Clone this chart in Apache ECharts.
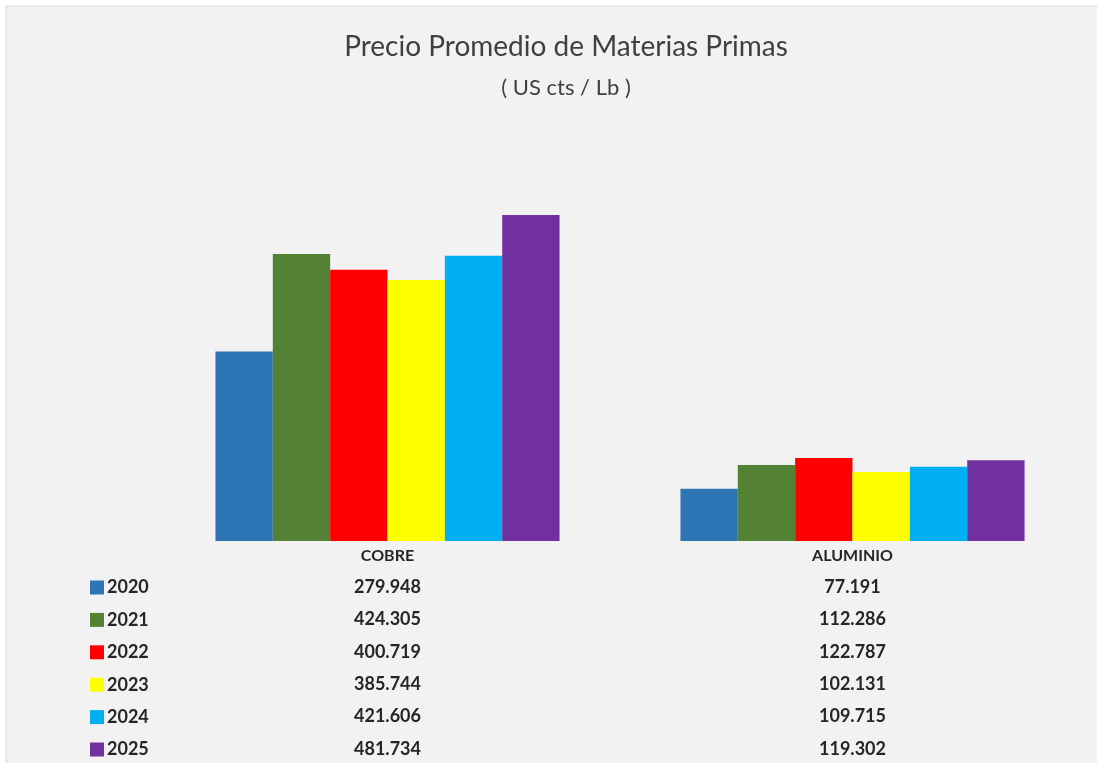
<!DOCTYPE html>
<html><head><meta charset="utf-8">
<script src="https://cdn.jsdelivr.net/npm/echarts@6/dist/echarts.min.js"></script>
<style>html,body{margin:0;padding:0;background:#fff}#c{width:1097px;height:763px}</style>
</head><body><div id="c"></div>
<script>
const categories = ['COBRE', 'ALUMINIO'];
const years = ['2020', '2021', '2022', '2023', '2024', '2025'];
const cobre = [279.948, 424.305, 400.719, 385.744, 421.606, 481.734];
const aluminio = [77.191, 112.286, 122.787, 102.131, 109.715, 119.302];
const colors = ['#2E75B6', '#548235', '#FF0000', '#FFFF00', '#00B0F0', '#7030A0'];

const fmt = v => v.toFixed(3);
const rowStep = 32.4;
const font = 'Lato, "Open Sans", sans-serif';

const xAxes = [{
  type: 'category', data: categories, gridIndex: 0,
  axisLine: {show: false}, axisTick: {show: false},
  axisLabel: {margin: 7, fontSize: 16, fontWeight: 'bold', color: '#262626', fontFamily: font}
}];
years.forEach((y, i) => {
  xAxes.push({
    type: 'category', data: categories, gridIndex: 0, position: 'bottom',
    offset: 29 + rowStep * i,
    axisLine: {show: false}, axisTick: {show: false},
    axisLabel: {margin: 8, fontSize: 18, fontWeight: 'bold', color: '#262626', fontFamily: font,
      formatter: (val, idx) => fmt([cobre, aluminio][idx][i])}
  });
});

const series = years.map((y, i) => ({
  name: y, type: 'bar', xAxisIndex: 0, yAxisIndex: 0,
  data: [cobre[i], aluminio[i]],
  itemStyle: {color: colors[i]},
  barGap: '0%', barCategoryGap: '26%'
}));

const legends = years.map((y, i) => ({
  orient: 'vertical', left: 90, top: 578.5 + rowStep * i, itemWidth: 14, itemHeight: 14, itemGap: 0,
  icon: 'rect', data: [y], padding: 0,
  textStyle: {fontSize: 18, lineHeight: 18, fontWeight: 'bold', color: '#262626', fontFamily: font, padding: [0, 0, 0, -2]}
}));

const chart = echarts.init(document.getElementById('c'));
chart.setOption({
  animation: false,
  backgroundColor: '#ffffff',
  graphic: [{type: 'rect', shape: {x: 6, y: 6, width: 1200, height: 900}, silent: true, z: -10,
    style: {fill: '#f2f2f2', stroke: '#d9d9d9', lineWidth: 1}}],
  title: [
    {text: 'Precio Promedio de Materias Primas', left: 561, top: 28, textAlign: 'center',
      textStyle: {fontSize: 28, fontWeight: 'normal', color: '#404040', fontFamily: font}},
    {text: '( US cts / Lb )', left: 561, top: 72, textAlign: 'center',
      textStyle: {fontSize: 22, fontWeight: 'normal', color: '#404040', fontFamily: font}}
  ],
  legend: legends,
  grid: {left: 155, right: 12, top: 135, bottom: 222, containLabel: false},
  xAxis: xAxes,
  yAxis: {type: 'value', min: 0, max: 600, show: false, splitLine: {show: false}},
  series: series
});
</script></body></html>
